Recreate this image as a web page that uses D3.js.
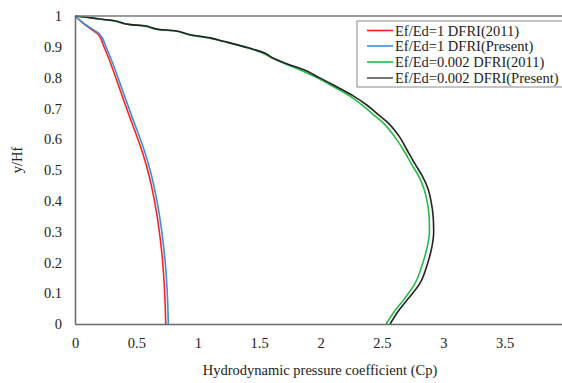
<!DOCTYPE html>
<html><head><meta charset="utf-8">
<script src="https://cdn.jsdelivr.net/npm/d3@7"></script>
<style>body{margin:0;background:#fff}svg{display:block}</style>
</head><body>
<svg id="c" width="562" height="383"></svg>
<script>
const xTicks = [0, 0.5, 1, 1.5, 2, 2.5, 3, 3.5];
const yTicks = [0, 0.1, 0.2, 0.3, 0.4, 0.5, 0.6, 0.7, 0.8, 0.9, 1];
const seriesNames = ["Ef/Ed=1 DFRI(2011)", "Ef/Ed=1 DFRI(Present)", "Ef/Ed=0.002 DFRI(2011)", "Ef/Ed=0.002 DFRI(Present)"];
const seriesColors = ["#ff2020", "#3a8ee0", "#22bb44", "#222222"];

// [Cp, y/Hf]
const red = [[0,1],[0.085,0.97],[0.19,0.94],[0.236,0.9],[0.28,0.857],[0.332,0.8],[0.396,0.727],[0.448,0.67],[0.495,0.619],[0.543,0.565],[0.585,0.51],[0.622,0.45],[0.646,0.403],[0.669,0.35],[0.687,0.3],[0.705,0.24],[0.722,0.16],[0.733,0.08],[0.739,0]];
const blue = [[0,1],[0.093,0.97],[0.203,0.94],[0.252,0.9],[0.297,0.857],[0.35,0.8],[0.415,0.727],[0.467,0.67],[0.515,0.619],[0.563,0.565],[0.605,0.51],[0.642,0.45],[0.666,0.403],[0.689,0.35],[0.707,0.3],[0.725,0.24],[0.743,0.16],[0.754,0.08],[0.76,0]];
const green = [[0,1],[0.1,0.995],[0.2,0.99],[0.3,0.985],[0.45,0.972],[0.55,0.968],[0.69,0.955],[0.8,0.952],[0.94,0.938],[1.1,0.928],[1.21,0.917],[1.42,0.895],[1.55,0.876],[1.6,0.864],[1.71,0.845],[1.84,0.824],[1.97,0.8],[2.08,0.776],[2.24,0.74],[2.34,0.711],[2.43,0.68],[2.5,0.657],[2.6,0.61],[2.676,0.565],[2.74,0.52],[2.8,0.48],[2.842,0.44],[2.868,0.4],[2.885,0.348],[2.888,0.3],[2.87,0.251],[2.835,0.2],[2.77,0.132],[2.68,0.08],[2.6,0.04],[2.535,0]];
const black = [[0,1],[0.1,0.996],[0.2,0.99],[0.3,0.986],[0.45,0.972],[0.55,0.969],[0.69,0.956],[0.8,0.953],[0.94,0.939],[1.1,0.929],[1.21,0.918],[1.42,0.896],[1.55,0.879],[1.6,0.866],[1.72,0.846],[1.86,0.826],[1.99,0.8],[2.105,0.776],[2.27,0.74],[2.377,0.711],[2.47,0.68],[2.54,0.657],[2.64,0.61],[2.705,0.565],[2.77,0.52],[2.83,0.48],[2.875,0.44],[2.9,0.4],[2.918,0.348],[2.922,0.3],[2.908,0.251],[2.875,0.2],[2.81,0.132],[2.71,0.08],[2.63,0.04],[2.567,0]];
const seriesData = [red, blue, green, black];

const svg = d3.select("#c");
const font = "'Liberation Serif','Times New Roman',serif";
const fs = 14.5;
const x = d3.scaleLinear().domain([0, 4]).range([75, 566]);
const y = d3.scaleLinear().domain([0, 1]).range([324, 16]);

const line = d3.line().x(d => x(d[0])).y(d => y(d[1])).curve(d3.curveMonotoneY);
seriesData.forEach((s, i) => {
  const pts = s.slice().sort((a, b) => a[1] - b[1]);
  svg.append("path").datum(pts).attr("d", line).attr("fill", "none")
    .attr("stroke", seriesColors[i]).attr("stroke-width", 1.6).attr("stroke-linejoin", "round");
});

// axes
const xAxis = d3.axisBottom(x).tickValues(xTicks).tickSize(0).tickPadding(14).tickFormat(d3.format("~g"));
const gx = svg.append("g").attr("transform", `translate(0,${y(0)})`).call(xAxis);
const yAxis = d3.axisLeft(y).tickValues(yTicks).tickSize(0).tickPadding(13).tickFormat(d3.format("~g"));
const gy = svg.append("g").attr("transform", `translate(${x(0)},0)`).call(yAxis);
[gx, gy].forEach(g => {
  g.select(".domain").attr("stroke", "#6a6a6a").attr("stroke-width", 1.5);
  g.selectAll("text").attr("font-family", font).attr("font-size", fs).attr("fill", "#222");
});
svg.append("line").attr("x1", x(0)).attr("x2", x(4)).attr("y1", y(1)).attr("y2", y(1))
  .attr("stroke", "#7a7a7a").attr("stroke-width", 1.5);

svg.append("text").attr("x", 320).attr("y", 375).attr("text-anchor", "middle")
  .attr("font-family", font).attr("font-size", fs).attr("fill", "#222")
  .text("Hydrodynamic pressure coefficient (Cp)");
svg.append("text").attr("transform", "translate(22,160) rotate(-90)").attr("text-anchor", "middle")
  .attr("font-family", font).attr("font-size", fs).attr("fill", "#222").text("y/Hf");

// legend
const lg = svg.append("g");
lg.append("rect").attr("x", 357).attr("y", 21).attr("width", 210).attr("height", 66)
  .attr("fill", "#fff").attr("stroke", "#8a8a8a").attr("stroke-width", 1);
const ly = [30.5, 46, 62, 78];
seriesNames.forEach((n, i) => {
  lg.append("line").attr("x1", 367).attr("x2", 393).attr("y1", ly[i]).attr("y2", ly[i])
    .attr("stroke", seriesColors[i] === "#222222" ? "#555" : seriesColors[i]).attr("stroke-width", 1.6);
  lg.append("text").attr("x", 395).attr("y", ly[i]).attr("dy", "0.35em")
    .attr("font-family", font).attr("font-size", fs).attr("fill", "#222").text(n);
});
</script>
</body></html>
